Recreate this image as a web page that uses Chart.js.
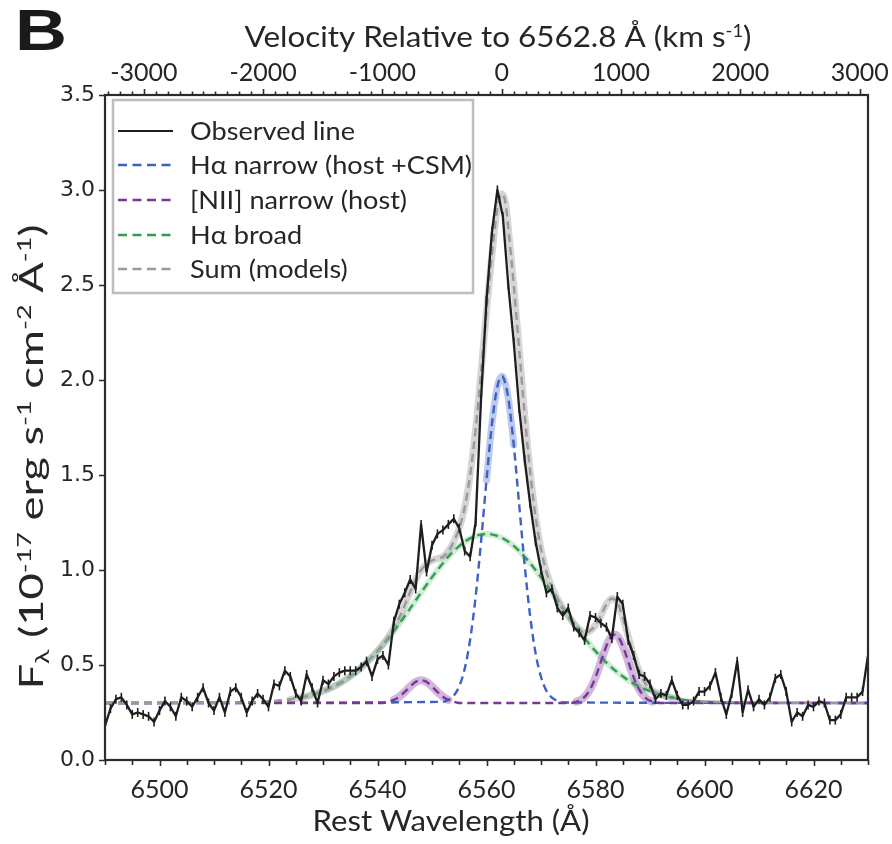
<!DOCTYPE html>
<html><head><meta charset="utf-8">
<script src="https://cdn.jsdelivr.net/npm/chart.js@4.4.1/dist/chart.umd.min.js"></script>
<style>html,body{margin:0;padding:0;background:#fff;}#wrap{width:892px;height:844px;position:relative;}</style>
</head><body><div id="wrap"><canvas id="c" width="892" height="844"></canvas></div>
<script>
// ---------- data ----------
const obsWave = [
 6490,6491,6492,6493,6494,6495,6496,6497,6498,6499,
 6500,6501,6502,6503,6504,6505,6506,6507,6508,6509,
 6510,6511,6512,6513,6514,6515,6516,6517,6518,6519,
 6520,6521,6522,6523,6524,6525,6526,6527,6528,6529,
 6530,6531,6532,6533,6534,6535,6536,6537,6538,6539,
 6540,6541,6542,6543,6544,6545,6546,6547,6548,6549,
 6550,6551,6552,6553,6554,6555,6556,6557,6558,6559,
 6560,6561,6562,6563,6564,6565,6566,6567,6568,6569,
 6570,6571,6572,6573,6574,6575,6576,6577,6578,6579,
 6580,6581,6582,6583,6584,6585,6586,6587,6588,6589,
 6590,6591,6592,6593,6594,6595,6596,6597,6598,6599,
 6600,6601,6602,6603,6604,6605,6606,6607,6608,6609,
 6610,6611,6612,6613,6614,6615,6616,6617,6618,6619,
 6620,6621,6622,6623,6624,6625,6626,6627,6628,6629,
 6630];
const obsFlux = [
 0.18,0.27,0.32,0.33,0.29,0.24,0.25,0.24,0.23,0.20,
 0.26,0.31,0.28,0.23,0.33,0.31,0.28,0.33,0.38,0.30,
 0.26,0.33,0.25,0.36,0.38,0.33,0.25,0.31,0.35,0.32,
 0.28,0.40,0.39,0.47,0.44,0.35,0.31,0.45,0.38,0.30,
 0.42,0.40,0.44,0.46,0.47,0.47,0.47,0.49,0.52,0.44,
 0.53,0.55,0.50,0.73,0.82,0.88,0.95,0.90,1.24,0.99,
 1.13,1.19,1.21,1.24,1.27,1.22,1.10,1.07,1.25,1.90,
 2.42,2.78,3.00,2.86,2.50,2.20,1.85,1.58,1.35,1.15,
 1.00,0.88,0.90,0.80,0.76,0.80,0.70,0.67,0.63,0.76,
 0.75,0.72,0.70,0.64,0.86,0.82,0.63,0.55,0.45,0.44,
 0.40,0.32,0.35,0.34,0.42,0.34,0.29,0.29,0.31,0.36,
 0.36,0.39,0.46,0.33,0.24,0.35,0.52,0.25,0.37,0.28,
 0.32,0.29,0.33,0.43,0.45,0.36,0.20,0.25,0.23,0.29,
 0.28,0.31,0.30,0.21,0.21,0.24,0.33,0.33,0.33,0.36,
 0.55];

const narrowWave = [6490,6552,6553,6554,6555,6556,6557,6558,6559,6560,6561,6562,6562.8,6563,6564,6565,6566,6567,6568,6569,6570,6571,6572,6573,6574,6630];
const narrowFlux = [0.30,0.306,0.316,0.339,0.388,0.480,0.633,0.858,1.150,1.473,1.769,1.967,2.02,2.017,1.903,1.658,1.343,1.027,0.759,0.563,0.437,0.364,0.328,0.311,0.303,0.30];

const niiWave = [6490,6541,6542,6543,6544,6545,6546,6547,6548,6549,6550,6551,6552,6553,6554,6555,
 6575.5,6576.5,6577.5,6578.5,6579.5,6580.5,6581.5,6582.5,6583.5,6584.5,6585.5,6586.5,6587.5,6588.5,6589.5,6590.5,6591.5,6630];
const niiFlux = [0.30,0.30,0.307,0.316,0.333,0.358,0.387,0.411,0.42,0.411,0.387,0.358,0.333,0.316,0.307,0.30,
 0.30,0.307,0.320,0.349,0.400,0.475,0.561,0.632,0.66,0.632,0.561,0.475,0.400,0.349,0.320,0.307,0.30,0.30];

const broadWave = [6490,6516,6520,6522,6524,6526,6528,6530,6532,6534,6536,6538,6540,6542,6544,6546,6548,6550,6552,6554,6556,6558,6560,
 6562,6564,6566,6568,6570,6572,6574,6576,6578,6580,6582,6584,6586,6588,6590,6592,6594,6596,6598,6600,6604,6630];
const broadFlux = [0.30,0.303,0.308,0.312,0.319,0.329,0.343,0.362,0.387,0.420,0.462,0.513,0.573,0.641,0.717,0.798,0.881,0.962,1.036,1.100,1.149,1.179,1.190,
 1.179,1.149,1.100,1.036,0.962,0.881,0.798,0.717,0.641,0.573,0.513,0.462,0.420,0.387,0.362,0.343,0.329,0.319,0.312,0.308,0.303,0.30];

const sumWave = [6490,6516,6520,6524,6528,6532,6536,6538,6540,6542,6544,6545,6546,6547,6548,6549,6550,6551,6552,6553,6554,6555,6556,6557,6558,6559,
 6560,6561,6562,6562.8,6563.5,6564,6565,6566,6567,6568,6569,6570,6571,6572,6573,6574,6575,6576,6577,6578,6579,
 6580,6581,6582,6583,6584,6585,6586,6587,6588,6589,6590,6592,6595,6600,6630];
const sumFlux = [0.30,0.303,0.308,0.319,0.343,0.387,0.462,0.513,0.573,0.648,0.750,0.815,0.885,0.950,1.00,1.03,1.05,1.06,1.07,1.10,1.15,1.22,1.33,1.50,1.74,2.04,
 2.36,2.66,2.90,2.98,2.93,2.80,2.50,2.16,1.82,1.52,1.28,1.11,0.99,0.91,0.85,0.80,0.76,0.72,0.69,0.67,0.68,
 0.71,0.76,0.82,0.85,0.83,0.75,0.65,0.55,0.47,0.41,0.376,0.343,0.324,0.308,0.30];

const waveTicks = [6500,6520,6540,6560,6580,6600,6620];
const velTicks = [-3000,-2000,-1000,0,1000,2000,3000];
const fluxTicks = [0,0.5,1.0,1.5,2.0,2.5,3.0,3.5];
const legendLabels = ['Observed line','H\u03b1 narrow (host +CSM)','[NII] narrow (host)','H\u03b1 broad','Sum (models)'];

const REST = 6562.8, CLIGHT = 299792.458;
const WMIN = 6490, WMAX = 6630;

// ---------- styles ----------
const TXT = '#262626';
const C_OBS = '#1e1e1e', C_BLUE = '#3d62c4', C_NII = '#7b3796', C_GREEN = '#2f9f4c', C_SUM = '#9a9a9a';
const pts = (xs, ys) => xs.map((x, i) => ({x: x, y: ys[i]}));
const showAbove = (col, lim) => ({borderColor: c => (c.p0.parsed.y < lim && c.p1.parsed.y < lim) ? 'rgba(0,0,0,0)' : col});

function bandDS(xs, ys, col, w, ord, lim) {
  return {data: pts(xs, ys), borderColor: col, borderWidth: w, pointRadius: 0, fill: false,
    cubicInterpolationMode: 'monotone', order: ord, segment: showAbove(col, lim), borderCapStyle: 'round'};
}
function dashDS(xs, ys, col, ord) {
  return {data: pts(xs, ys), borderColor: col, borderWidth: 2.4, borderDash: [8, 5], pointRadius: 0, fill: false,
    cubicInterpolationMode: 'monotone', order: ord};
}

const datasets = [
  {data: pts(obsWave, obsFlux), borderColor: C_OBS, borderWidth: 2.3, pointRadius: 0, tension: 0, order: 0},
  {data: pts(obsWave, obsFlux), showLine: false, pointStyle: 'line', rotation: 90, pointRadius: 4.5,
   pointBorderColor: C_OBS, pointBorderWidth: 1.6, order: 1},
  dashDS(sumWave, sumFlux, C_SUM, 2),
  dashDS(niiWave, niiFlux, C_NII, 3),
  dashDS(narrowWave, narrowFlux, C_BLUE, 4),
  dashDS(broadWave, broadFlux, C_GREEN, 5),
  bandDS(sumWave, sumFlux, 'rgba(120,120,120,0.30)', 7, 10, 0.34),
  bandDS(narrowWave, narrowFlux, 'rgba(70,100,205,0.35)', 7, 11, 1.7),
  bandDS(niiWave, niiFlux, 'rgba(135,65,165,0.38)', 8, 12, 0.318),
  bandDS(broadWave, broadFlux, 'rgba(70,185,100,0.25)', 6, 13, 0.33)
];

// ---------- rich text helper ----------
function fontFor(p, size, fam) { return ((p.sup || p.sub) ? Math.round(size * 0.6) : size) + 'px ' + fam; }
function partsWidth(ctx, parts, size, fam) {
  let w = 0;
  for (const p of parts) { ctx.font = fontFor(p, size, fam); w += ctx.measureText(p.t).width; }
  return w;
}
function drawRich(ctx, parts, cx, cy, size, fam, targetW) {
  const total = partsWidth(ctx, parts, size, fam);
  const s = targetW ? targetW / total : 1;
  ctx.save();
  ctx.translate(cx, cy);
  ctx.scale(s, 1);
  ctx.textBaseline = 'alphabetic';
  ctx.textAlign = 'left';
  let x = -total / 2;
  for (const p of parts) {
    ctx.font = fontFor(p, size, fam);
    const dy = p.sup ? -size * 0.36 : (p.sub ? size * 0.2 : 0);
    ctx.fillText(p.t, x, dy);
    x += ctx.measureText(p.t).width;
  }
  ctx.restore();
}

const FAM = 'Lato, "Open Sans", sans-serif';

const decor = {
  id: 'decor',
  afterDraw(chart) {
    const ctx = chart.ctx, a = chart.chartArea;
    const sx = chart.scales.x, sv = chart.scales.xTop, sy = chart.scales.y;
    ctx.save();
    // tick marks
    ctx.strokeStyle = '#2b2b2b';
    ctx.lineWidth = 1.6;
    ctx.beginPath();
    for (let w = WMIN; w <= WMAX; w += 5) {
      const px = Math.round(sx.getPixelForValue(w)) + 0.5;
      const len = (w % 20 === 0) ? 6 : 5;
      ctx.moveTo(px, a.bottom); ctx.lineTo(px, a.bottom + len);
    }
    const vmin = sv.min, vmax = sv.max;
    for (let v = Math.ceil(vmin / 100) * 100; v <= vmax; v += 100) {
      const px = Math.round(sv.getPixelForValue(v)) + 0.5;
      const len = (v % 1000 === 0) ? 6 : 3.5;
      ctx.moveTo(px, a.top); ctx.lineTo(px, a.top - len);
    }
    for (const f of fluxTicks) {
      const py = Math.round(sy.getPixelForValue(f)) + 0.5;
      ctx.moveTo(a.left, py); ctx.lineTo(a.left - 6, py);
    }
    ctx.stroke();
    // frame
    ctx.lineWidth = 2.2;
    ctx.strokeRect(a.left, a.top, a.right - a.left, a.bottom - a.top);

    // legend
    const lx = 113, ly = 100, lw = 360, lh = 193;
    ctx.fillStyle = '#fff';
    ctx.fillRect(lx, ly, lw, lh);
    ctx.strokeStyle = '#bdbdbd';
    ctx.lineWidth = 2.5;
    ctx.strokeRect(lx, ly, lw, lh);
    const rows = [131, 165, 200, 235, 269];
    const cols = [C_OBS, C_BLUE, C_NII, C_GREEN, C_SUM];
    ctx.font = '25px ' + FAM;
    const ls = 165 / ctx.measureText(legendLabels[0]).width;
    for (let i = 0; i < legendLabels.length; i++) {
      const y = rows[i];
      ctx.beginPath();
      ctx.strokeStyle = cols[i];
      ctx.lineWidth = i === 0 ? 2.2 : 2.5;
      ctx.setLineDash(i === 0 ? [] : [9, 5.5]);
      ctx.moveTo(118, y); ctx.lineTo(173, y);
      ctx.stroke();
      ctx.setLineDash([]);
      ctx.save();
      ctx.translate(190, y + 9);
      ctx.scale(ls, 1);
      ctx.fillStyle = TXT;
      ctx.font = '25px ' + FAM;
      ctx.textAlign = 'left';
      ctx.textBaseline = 'alphabetic';
      ctx.fillText(legendLabels[i], 0, 0);
      ctx.restore();
    }

    // titles
    ctx.fillStyle = TXT;
    drawRich(ctx, [{t: 'Velocity Relative to 6562.8 \u00c5 (km s'}, {t: '-1', sup: true}, {t: ')'}], 498, 47, 29, FAM, 507);
    drawRich(ctx, [{t: 'Rest Wavelength (\u00c5)'}], 451, 831, 29, FAM, 277);
    ctx.save();
    ctx.translate(43, 457);
    ctx.rotate(-Math.PI / 2);
    drawRich(ctx, [{t: 'F'}, {t: '\u03bb', sub: true}, {t: ' (10'}, {t: '-17', sup: true}, {t: ' erg s'}, {t: '-1', sup: true},
      {t: ' cm'}, {t: '-2', sup: true}, {t: ' \u00c5'}, {t: '-1', sup: true}, {t: ')'}], 0, 0, 32, FAM, 465);
    ctx.restore();
    // panel letter
    ctx.save();
    ctx.font = 'bold 58px "Liberation Sans", Arial, sans-serif';
    const bw = ctx.measureText('B').width;
    ctx.translate(15, 50);
    ctx.scale(52 / bw, 1);
    ctx.fillStyle = '#1a1a1a';
    ctx.fillText('B', 0, 0);
    ctx.restore();
    ctx.restore();
  }
};

new Chart(document.getElementById('c'), {
  type: 'line',
  data: {datasets: datasets},
  options: {
    responsive: false, animation: false, devicePixelRatio: 1,
    layout: {padding: {left: 0, right: 24, top: 0, bottom: 0}},
    plugins: {legend: {display: false}, tooltip: {enabled: false}},
    elements: {line: {borderJoinStyle: 'round'}},
    scales: {
      x: {
        type: 'linear', position: 'bottom', min: WMIN, max: WMAX,
        afterBuildTicks: s => { s.ticks = waveTicks.map(v => ({value: v})); },
        afterFit: s => { s.height = 84; },
        ticks: {callback: v => String(v), autoSkip: false, maxRotation: 0, padding: 9,
          font: {family: FAM, size: 25}, color: TXT},
        grid: {display: false, drawTicks: true, tickLength: 6},
        border: {display: false}
      },
      xTop: {
        type: 'linear', position: 'top', axis: 'x',
        min: CLIGHT * (WMIN - REST) / REST, max: CLIGHT * (WMAX - REST) / REST,
        afterBuildTicks: s => { s.ticks = velTicks.map(v => ({value: v})); },
        afterFit: s => { s.height = 95; },
        ticks: {callback: v => String(v), autoSkip: false, maxRotation: 0, padding: 1,
          font: {family: FAM, size: 25}, color: TXT},
        grid: {display: false, drawTicks: true, tickLength: 6},
        border: {display: false}
      },
      y: {
        type: 'linear', position: 'left', min: 0, max: 3.5,
        afterBuildTicks: s => { s.ticks = fluxTicks.map(v => ({value: v})); },
        afterFit: s => { s.width = 105; },
        ticks: {callback: v => Number(v).toFixed(1), autoSkip: false, padding: 3,
          font: {family: '"DejaVu Sans", Verdana, sans-serif', size: 22}, color: TXT},
        grid: {display: false, drawTicks: true, tickLength: 7},
        border: {display: false}
      }
    }
  },
  plugins: [decor]
});
</script>
</body></html>
